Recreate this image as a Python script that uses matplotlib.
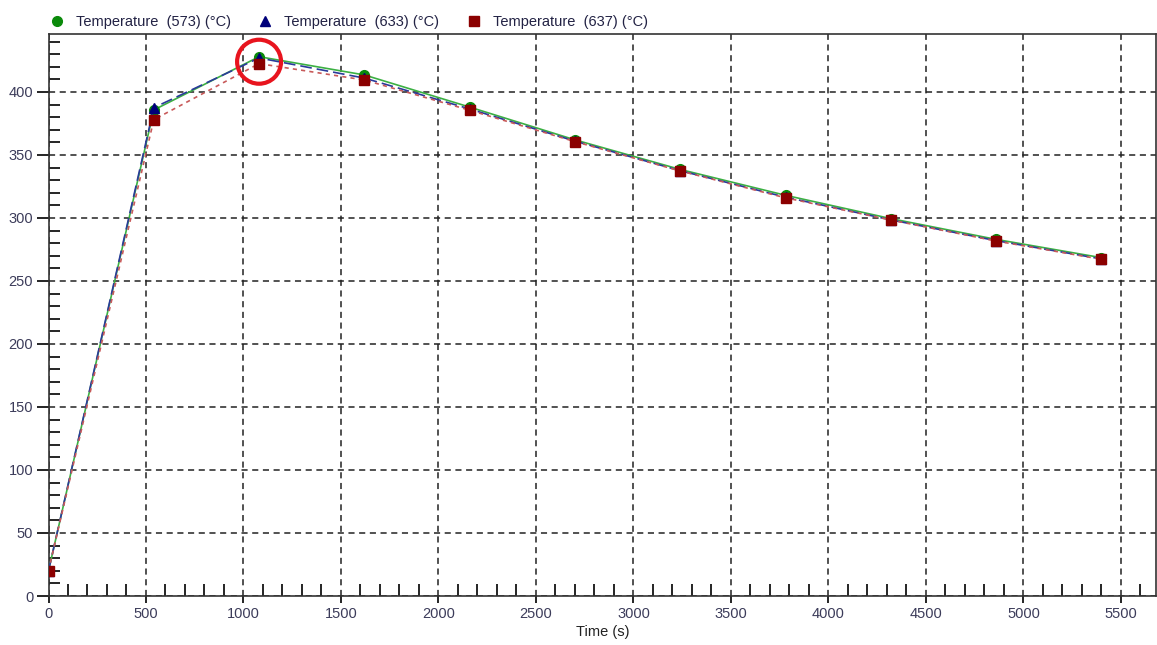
import matplotlib
matplotlib.use("Agg")
import matplotlib.pyplot as plt
from matplotlib.ticker import MultipleLocator
from matplotlib.patches import Ellipse

plt.rcParams['font.family'] = ['Liberation Sans', 'DejaVu Sans']

time_s = [0, 540, 1080, 1620, 2160, 2700, 3240, 3780, 4320, 4860, 5400]
temp_573 = [20, 385.7, 428, 413.5, 388, 362, 338.5, 318, 299.5, 283, 268.5]
temp_633 = [20, 387.5, 427, 411, 386.5, 361, 337.5, 316.5, 298.5, 282, 267.5]
temp_637 = [20, 378, 422.5, 409.5, 385.5, 360.6, 337.3, 316, 298.4, 281.7, 267.2]

labels = ["Temperature  (573) (\u00b0C)", "Temperature  (633) (\u00b0C)", "Temperature  (637) (\u00b0C)"]
highlight = (1080, 424)

text_color = "#3c3c5a"
fs = 10.5

fig = plt.figure(figsize=(11.57, 6.45), dpi=100)
ax = fig.add_axes([48.5 / 1157, 1 - 596 / 645, (1156 - 48.5) / 1157, (596 - 34) / 645])

ax.plot(time_s, temp_573, color="#3cb043", lw=1.2, ls="-", marker="o", ms=7,
        mfc="#0a8a0a", mec="#0a8a0a", label=labels[0], zorder=3)
ax.plot(time_s, temp_633, color="#2a3a9a", lw=1.2, ls=(0, (7, 3)), marker="^", ms=7,
        mfc="#00007a", mec="#00007a", label=labels[1], zorder=4)
ax.plot(time_s, temp_637, color="#c85a5a", lw=1.2, ls=(0, (2.5, 2.5)), marker="s", ms=7,
        mfc="#8b0000", mec="#8b0000", label=labels[2], zorder=5)

ax.set_xlim(0, 5680)
ax.set_ylim(0, 446)

ax.xaxis.set_major_locator(MultipleLocator(500))
ax.xaxis.set_minor_locator(MultipleLocator(100))
ax.yaxis.set_major_locator(MultipleLocator(50))
ax.yaxis.set_minor_locator(MultipleLocator(10))

ax.tick_params(axis="x", which="major", direction="out", length=5, width=1.2,
               labelsize=fs, labelcolor=text_color, pad=3)
ax.tick_params(axis="x", which="minor", direction="in", length=9, width=1.2)
ax.tick_params(axis="y", which="major", direction="out", length=9, width=1.2,
               labelsize=fs, labelcolor=text_color, pad=2)
ax.tick_params(axis="y", which="minor", direction="in", length=8, width=1.2)

ax.grid(True, which="major", color="#222222", ls=(0, (4, 3)), lw=1.1)

for sp in ax.spines.values():
    sp.set_color("#333333")
    sp.set_linewidth(1.2)

ax.set_xlabel("Time (s)", fontsize=fs, color="#222222", labelpad=3)

circle = Ellipse(highlight, width=44 / 0.1952, height=44 / 1.26,
                 fill=False, ec="#e8141e", lw=3.0, zorder=6)
ax.add_patch(circle)

leg = fig.legend(loc="upper left", bbox_to_anchor=(44 / 1157, 1 - 9 / 645), ncol=3,
                 frameon=False, fontsize=fs, handlelength=1.0, handletextpad=0.8,
                 columnspacing=1.85, borderaxespad=0)
for h in leg.get_lines():
    h.set_linestyle("none")
for t in leg.get_texts():
    t.set_color("#222244")

fig.savefig("out.png", dpi=100)
